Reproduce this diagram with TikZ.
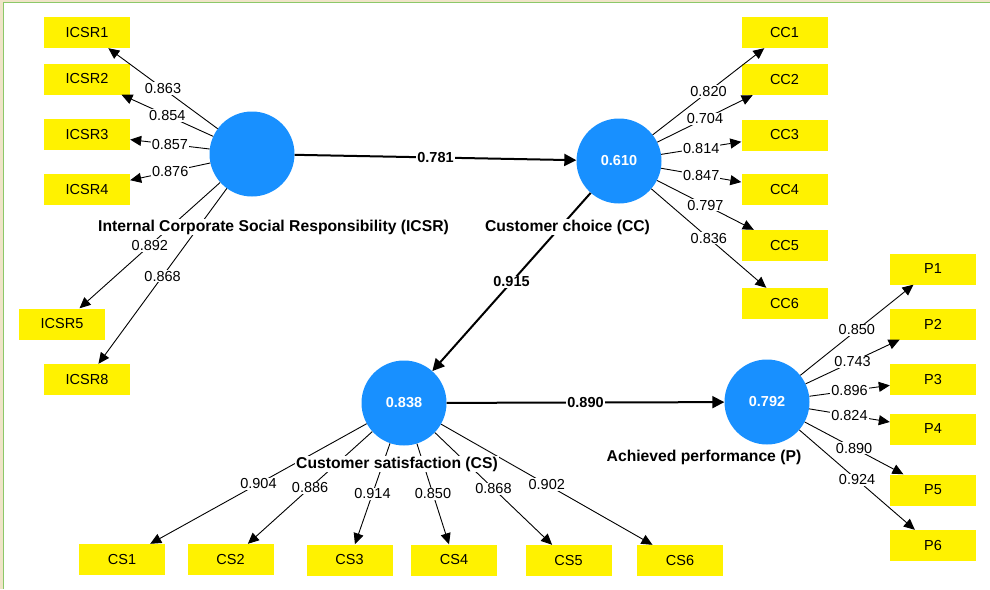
\documentclass[tikz,border=0pt]{standalone}
\usepackage{fontspec}
\setmainfont{Liberation Sans}
\usetikzlibrary{arrows.meta}
\definecolor{lvblue}{RGB}{24,144,255}
\definecolor{framegreen}{RGB}{140,200,105}
\definecolor{framebeige}{RGB}{240,228,200}
\tikzset{
  lv/.style={circle, fill=lvblue, minimum size=85pt, inner sep=0pt, text=white,
    font=\fontsize{14.5}{17}\selectfont\bfseries},
  mv/.style={rectangle, fill=yellow, minimum width=86pt, minimum height=31pt, inner sep=0pt,
    font=\fontsize{14.5}{17}\selectfont},
  ld/.style={-{Triangle[length=11pt,width=10pt]}, line width=0.9pt},
  pth/.style={-{Triangle[length=12pt,width=12pt]}, line width=2pt},
  cf/.style={fill=white, inner sep=1pt, font=\fontsize{14.5}{17}\selectfont},
  pcf/.style={fill=white, inner sep=1pt, font=\fontsize{14.5}{17}\selectfont\bfseries},
  lvname/.style={fill=white, inner sep=1pt, anchor=base, font=\fontsize{15.7}{18}\selectfont\bfseries}
}
\begin{document}
\begin{tikzpicture}[x=1pt,y=-1pt]
\useasboundingbox (0,0) rectangle (990,589);
% frame
\fill[framebeige] (0,0) rectangle (3,589);
\fill[framebeige] (0,0) rectangle (990,1.5);
\draw[framegreen, line width=1.2pt] (3.6,589) -- (3.6,2.6) -- (990,2.6);
% latent variables
\node[lv] (ICSR) at (252,154) {};
\node[lv] (CC) at (619,161) {0.610};
\node[lv] (CS) at (404,403) {0.838};
\node[lv] (P) at (767,402) {0.792};
% indicators
\node[mv] (ICSR1) at (87,32.5) {ICSR1};
\node[mv] (ICSR2) at (87,79) {ICSR2};
\node[mv] (ICSR3) at (87,134.5) {ICSR3};
\node[mv] (ICSR4) at (87,189.5) {ICSR4};
\node[mv] (ICSR5) at (62,324) {ICSR5};
\node[mv] (ICSR8) at (87,379.5) {ICSR8};
\node[mv] (CC1) at (784.5,32.5) {CC1};
\node[mv] (CC2) at (784.5,79.5) {CC2};
\node[mv] (CC3) at (784.5,135) {CC3};
\node[mv] (CC4) at (784.5,189.5) {CC4};
\node[mv] (CC5) at (784.5,245.5) {CC5};
\node[mv] (CC6) at (784.5,303.5) {CC6};
\node[mv] (P1) at (933,269) {P1};
\node[mv] (P2) at (933,324) {P2};
\node[mv] (P3) at (933,379.5) {P3};
\node[mv] (P4) at (933,429) {P4};
\node[mv] (P5) at (933,490) {P5};
\node[mv] (P6) at (933,545.5) {P6};
\node[mv] (CS1) at (122,559.5) {CS1};
\node[mv] (CS2) at (230.5,559.5) {CS2};
\node[mv] (CS3) at (349.5,560) {CS3};
\node[mv] (CS4) at (454,560) {CS4};
\node[mv] (CS5) at (568.5,560.5) {CS5};
\node[mv] (CS6) at (680,560.5) {CS6};
% outer loadings
\draw[ld] (ICSR) -- node[cf]{0.863} (ICSR1);
\draw[ld] (ICSR) -- node[cf]{0.854} (ICSR2);
\draw[ld] (ICSR) -- node[cf]{0.857} (ICSR3);
\draw[ld] (ICSR) -- node[cf]{0.876} (ICSR4);
\draw[ld] (ICSR) -- node[cf]{0.892} (ICSR5);
\draw[ld] (ICSR) -- node[cf]{0.868} (ICSR8);
\draw[ld] (CC) -- node[cf]{0.820} (CC1);
\draw[ld] (CC) -- node[cf]{0.704} (CC2);
\draw[ld] (CC) -- node[cf]{0.814} (CC3);
\draw[ld] (CC) -- node[cf]{0.847} (CC4);
\draw[ld] (CC) -- node[cf]{0.797} (CC5);
\draw[ld] (CC) -- node[cf]{0.836} (CC6);
\draw[ld] (P) -- node[cf]{0.850} (P1);
\draw[ld] (P) -- node[cf]{0.743} (P2);
\draw[ld] (P) -- node[cf]{0.896} (P3);
\draw[ld] (P) -- node[cf]{0.824} (P4);
\draw[ld] (P) -- node[cf]{0.890} (P5);
\draw[ld] (P) -- node[cf]{0.924} (P6);
\draw[ld] (CS) -- node[cf]{0.904} (CS1);
\draw[ld] (CS) -- node[cf]{0.886} (CS2);
\draw[ld] (CS) -- node[cf]{0.914} (CS3);
\draw[ld] (CS) -- node[cf]{0.850} (CS4);
\draw[ld] (CS) -- node[cf]{0.868} (CS5);
\draw[ld] (CS) -- node[cf]{0.902} (CS6);
% path coefficients
\draw[pth] (ICSR) -- node[pcf]{0.781} (CC);
\draw[pth] (CC) -- node[pcf]{0.915} (CS);
\draw[pth] (CS) -- node[pcf]{0.890} (P);
% construct names
\node[lvname] (nICSR) at (273.5,231) {Internal Corporate Social Responsibility (ICSR)};
\node[lvname] (nCC) at (567.5,231) {Customer choice (CC)};
\node[lvname] (nCS) at (397,468) {Customer satisfaction (CS)};
\node[lvname] (nP) at (704,461) {Achieved performance (P)};
\end{tikzpicture}
\end{document}
